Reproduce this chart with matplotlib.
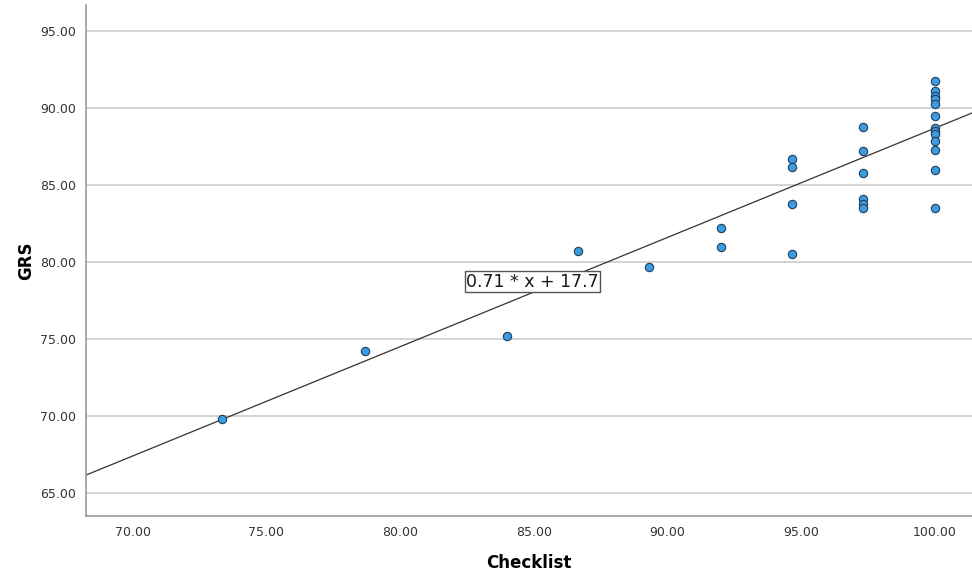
import matplotlib
matplotlib.use("Agg")
import matplotlib.pyplot as plt

# Checklist vs GRS scores
checklist = [73.33, 78.67, 84.0, 86.67, 89.33, 92.0, 92.0,
             94.67, 94.67, 94.67, 94.67,
             97.33, 97.33, 97.33, 97.33, 97.33, 97.33,
             100, 100, 100, 100, 100, 100, 100, 100, 100, 100, 100, 100, 100]
grs = [69.8, 74.2, 75.2, 80.7, 79.7, 82.2, 81.0,
       86.7, 86.2, 83.8, 80.5,
       88.8, 87.2, 85.8, 84.1, 83.8, 83.5,
       91.8, 91.1, 90.8, 90.6, 90.3, 89.5, 88.7, 88.55, 88.3, 87.85, 87.3, 86.0, 83.5]

slope = 0.71
intercept = 17.7
fit_label = "0.71 * x + 17.7"

xticks = [70, 75, 80, 85, 90, 95, 100]
yticks = [65, 70, 75, 80, 85, 90, 95]

fig = plt.figure(figsize=(9.72, 5.81), dpi=100)
ax = fig.add_axes([0.0885, 0.112, 0.9115, 0.879])

xmin, xmax = 68.25, 101.4
ax.set_xlim(xmin, xmax)
ax.set_ylim(63.5, 96.7)

ax.set_yticks(yticks)
ax.set_xticks(xticks)
ax.set_yticklabels([f"{v:.2f}" for v in yticks], fontsize=9, color="#333333")
ax.set_xticklabels([f"{v:.2f}" for v in xticks], fontsize=9, color="#333333")
ax.tick_params(length=0, pad=7)

ax.grid(axis="y", color="#c8c8c8", linewidth=1.1)
ax.set_axisbelow(True)
for s in ["top", "right"]:
    ax.spines[s].set_visible(False)
for s in ["left", "bottom"]:
    ax.spines[s].set_color("#999999")
    ax.spines[s].set_linewidth(1.2)

# fit line across the whole x range
ax.plot([xmin, xmax], [slope * xmin + intercept, slope * xmax + intercept],
        color="#333333", linewidth=0.9, zorder=2)

ax.scatter(checklist, grs, s=36, facecolor="#3d9be0", edgecolor="#1f3f5f",
           linewidth=0.8, zorder=3)

ax.text(84.96, 78.73, fit_label, fontsize=12.5, ha="center", va="center", color="#1a1a1a",
        bbox=dict(boxstyle="square,pad=0.08", facecolor="white", edgecolor="#555555", linewidth=1),
        zorder=4)

ax.set_xlabel("Checklist", fontsize=12, fontweight="bold", labelpad=11)
ax.set_ylabel("GRS", fontsize=12, fontweight="bold", labelpad=4)

fig.savefig("out.png", dpi=100)
